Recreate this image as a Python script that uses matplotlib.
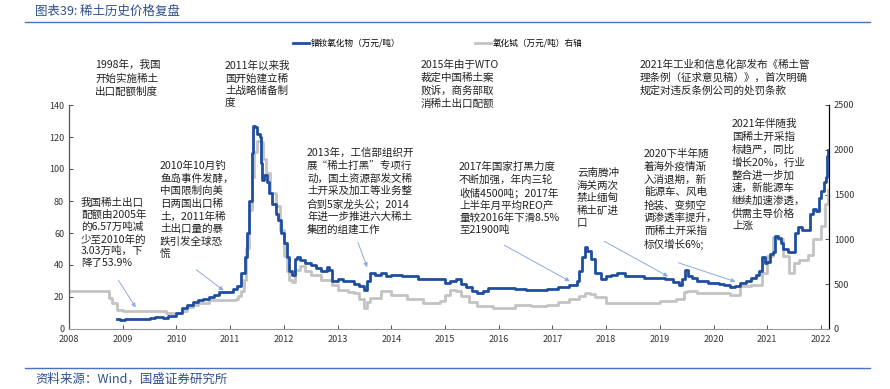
import matplotlib.pyplot as plt
import numpy as np

plt.rcParams['font.family'] = ['Noto Sans CJK SC', 'DejaVu Sans']

# 镨钕氧化物 (万元/吨), left axis
pn_t = [2008.90, 2008.95, 2009.05, 2009.2, 2009.35, 2009.5, 2009.6, 2009.75, 2009.85,
        2010.0, 2010.1, 2010.2, 2010.3, 2010.4, 2010.5, 2010.6, 2010.7, 2010.8, 2010.95,
        2011.05, 2011.12, 2011.2, 2011.27, 2011.32, 2011.36, 2011.40, 2011.43, 2011.47,
        2011.50, 2011.55, 2011.57, 2011.60, 2011.63, 2011.68, 2011.72, 2011.78, 2011.85,
        2011.9, 2011.95, 2012.0, 2012.05, 2012.1, 2012.15, 2012.2, 2012.25, 2012.3,
        2012.4, 2012.5, 2012.6, 2012.7, 2012.8, 2012.85, 2012.9, 2013.0, 2013.1, 2013.2,
        2013.3, 2013.4, 2013.5, 2013.55, 2013.6, 2013.7, 2013.8, 2013.9, 2014.0, 2014.2,
        2014.3, 2014.5, 2014.7, 2014.9, 2015.0, 2015.1, 2015.2, 2015.3, 2015.4, 2015.5,
        2015.6, 2015.7, 2015.8, 2016.0, 2016.3, 2016.5, 2016.7, 2016.9, 2017.1, 2017.3,
        2017.45, 2017.5, 2017.55, 2017.6, 2017.65, 2017.72, 2017.8, 2017.9, 2018.0,
        2018.1, 2018.2, 2018.35, 2018.5, 2018.7, 2018.9, 2019.1, 2019.25, 2019.35,
        2019.42, 2019.47, 2019.52, 2019.6, 2019.7, 2019.8, 2019.9, 2020.0, 2020.1,
        2020.2, 2020.3, 2020.4, 2020.5, 2020.6, 2020.7, 2020.8, 2020.85, 2020.9, 2020.95,
        2021.0, 2021.05, 2021.1, 2021.15, 2021.2, 2021.25, 2021.3, 2021.38, 2021.45,
        2021.52, 2021.58, 2021.65, 2021.72, 2021.8, 2021.85, 2021.9, 2021.96, 2022.0,
        2022.05, 2022.09, 2022.12, 2022.14]
pn_v = [6, 5.5, 6, 6.5, 6.5, 7, 7.5, 7, 8,
        10, 13, 15, 17, 18, 19, 20, 21.5, 23, 23,
        25, 27, 35, 45, 60, 80, 110, 127, 126,
        122, 120, 104, 93, 96, 92, 85, 78, 72,
        68, 60, 54, 45, 36, 34, 44, 45, 43,
        41, 40, 38, 36, 39, 37, 30, 31, 30, 30,
        28, 27, 24.5, 30, 35, 34, 35, 33, 34, 33,
        33, 31, 31, 31, 29, 30, 31, 28, 26.5, 24,
        22.5, 24, 25.5, 25.5, 25, 24.5, 24.5, 25, 26, 27.5,
        30, 36, 45, 51, 49, 44, 35, 31, 33,
        34, 35, 33, 33, 32, 32, 31, 29.5, 27.5,
        31, 37, 33, 32, 30, 30, 29, 28.5, 28,
        27.5, 26, 27, 28.5, 30, 32, 34, 36, 45, 41,
        42, 47, 48, 58, 57, 54, 50, 48, 48,
        60, 64, 62, 62, 72, 75, 74, 82, 86,
        92, 95, 108, 112]

# 氧化铽 (万元/吨), right axis
tb_t = [2008.0, 2008.7, 2008.75, 2008.8, 2008.9, 2009.0, 2009.7, 2009.8, 2010.0, 2010.1,
        2010.2, 2010.3, 2010.4, 2010.6, 2010.8, 2011.0, 2011.1, 2011.15, 2011.2, 2011.25,
        2011.3, 2011.35, 2011.4, 2011.45, 2011.5, 2011.58, 2011.62, 2011.66, 2011.75,
        2011.85, 2011.92, 2012.0, 2012.05, 2012.1, 2012.15, 2012.2, 2012.3, 2012.4,
        2012.5, 2012.7, 2012.9, 2013.0, 2013.2, 2013.3, 2013.4, 2013.5, 2013.55, 2013.6,
        2013.8, 2014.0, 2014.3, 2014.6, 2014.9, 2015.0, 2015.1, 2015.2, 2015.3, 2015.45,
        2015.6, 2015.9, 2016.0, 2016.3, 2016.6, 2016.9, 2017.1, 2017.3, 2017.5, 2017.6,
        2017.7, 2017.8, 2018.0, 2018.5, 2019.0, 2019.3, 2019.45, 2019.5, 2019.7, 2020.0,
        2020.3, 2020.5, 2020.7, 2020.9, 2021.0, 2021.1, 2021.2, 2021.3, 2021.4, 2021.5,
        2021.6, 2021.75, 2021.85, 2022.0, 2022.08, 2022.14]
tb_v = [420, 420, 350, 290, 216, 200, 200, 180, 180, 200,
        250, 270, 290, 320, 327, 327, 340, 364, 420, 550,
        900, 1330, 1700, 1980, 2100, 2090, 1900, 1740, 1520,
        1370, 1110, 810, 650, 550, 530, 660, 700, 650,
        600, 550, 490, 440, 410, 400, 330, 235, 300, 350,
        420, 385, 330, 290, 310, 380, 440, 420, 365, 300,
        255, 235, 235, 270, 255, 270, 300, 330, 370, 400,
        390, 360, 290, 290, 310, 330, 410, 420, 400, 400,
        385, 475, 495, 620, 810, 1030, 1000, 810, 620, 740,
        770, 830, 1000, 1145, 1400, 1550]

years = list(range(2008, 2023))
left_ticks = [0, 20, 40, 60, 80, 100, 120, 140]
right_ticks = [0, 500, 1000, 1500, 2000, 2500]

W, H = 890, 389
fig = plt.figure(figsize=(W / 100, H / 100), dpi=100)
ax = fig.add_axes([69 / W, 1 - 329 / H, 760 / W, 224 / H])
ax2 = ax.twinx()

blue = '#1F4E9E'
gray = '#C3C3C3'
l2, = ax2.plot(tb_t, tb_v, color=gray, lw=2, drawstyle='steps-post', label='氧化铽（万元/吨）右轴')
l1, = ax.plot(pn_t, pn_v, color=blue, lw=2, drawstyle='steps-post', label='镨钕氧化物（万元/吨）')
ax.set_zorder(ax2.get_zorder() + 1)
ax.patch.set_visible(False)

ax.set_xlim(2008, 2022.15)
ax.set_ylim(0, 140)
ax2.set_ylim(0, 2500)
ax.set_xticks(years)
ax.set_xticklabels([str(y) for y in years])
ax.set_yticks(left_ticks)
ax2.set_yticks(right_ticks)
for a in (ax, ax2):
    a.spines['top'].set_visible(False)
    a.tick_params(labelsize=6.5, colors='#333333', length=3, direction='in', width=0.6)
ax.spines['left'].set_color('#555555')
ax2.spines['right'].set_color('#222222')
ax.spines['bottom'].set_color('#999999')
ax2.spines['bottom'].set_visible(False)
ax.tick_params(axis='x', pad=4)

fig.legend(handles=[l1, l2], loc='center left', bbox_to_anchor=(293 / W, 1 - 44 / H),
           ncol=2, frameon=False, fontsize=6.2, handlelength=1.9, handletextpad=0.2,
           columnspacing=8.6, borderpad=0, borderaxespad=0)

def px(x, y):
    return x / W, 1 - y / H

fs = 7.6
tc = '#222222'
notes = [
    (95, 60, '1998年，我国\n开始实施稀土\n出口配额制度', 1.38),
    (225, 60, '2011年以来我\n国开始建立稀\n土战略储备制\n度', 1.3),
    (421, 60, '2015年由于WTO\n裁定中国稀土案\n败诉，商务部取\n消稀土出口配额', 1.3),
    (640, 60, '2021年工业和信息化部发布《稀土管\n理条例（征求意见稿）》，首次明确\n规定对违反条例公司的处罚条款', 1.3),
    (81, 198, '我国稀土出口\n配额由2005年\n的6.57万吨减\n少至2010年的\n3.03万吨，下\n降了53.9%', 1.23),
    (160, 161, '2010年10月钓\n鱼岛事件发酵，\n中国限制向美\n日两国出口稀\n土，2011年稀\n土出口量的暴\n跌引发全球恐\n慌', 1.29),
    (307, 148, '2013年，工信部组织开\n展“稀土打黑”专项行\n动，国土资源部发文稀\n土开采及加工等业务整\n合到5家龙头公；2014\n年进一步推进六大稀土\n集团的组建工作', 1.29),
    (459, 162, '2017年国家打黑力度\n不断加强，年内三轮\n收储4500吨；2017年\n上半年月平均REO产\n量较2016年下滑8.5%\n至21900吨', 1.27),
    (577, 168, '云南腾冲\n海关两次\n禁止缅甸\n稀土矿进\n口', 1.3),
    (644, 149, '2020下半年随\n着海外疫情渐\n入消退期，新\n能源车、风电\n抢装、变频空\n调渗透率提升，\n而稀土开采指\n标仅增长6%;', 1.32),
    (732, 119, '2021年伴随我\n国稀土开采指\n标趋严，同比\n增长20%，行业\n整合进一步加\n速，新能源车\n继续加速渗透，\n供需主导价格\n上涨', 1.3),
]
for x, y, s, ls in notes:
    fig.text(*px(x, y), s, fontsize=fs, color=tc, va='top', ha='left', linespacing=ls)

# arrows: (text end in pixels) -> (year, value on left axis)
arrows = [
    ((117, 278), (2009.27, 12)),
    ((194, 268), (2010.92, 23)),
    ((357, 240), (2013.57, 37)),
    ((502, 244), (2017.37, 29)),
    ((602, 240), (2019.2, 32)),
    ((676, 262), (2020.46, 29)),
]
for (x0, y0), (xt, yt) in arrows:
    ax.annotate('', xy=(xt, yt), xycoords='data', xytext=px(x0, y0), textcoords='figure fraction',
                arrowprops=dict(arrowstyle='-|>', color='#8EA9DB', lw=0.7, mutation_scale=6))

title_c = '#2F4F8F'
fig.text(*px(35, 11), '图表39: 稀土历史价格复盘', fontsize=9, color=title_c, va='center', ha='left', style='italic')
fig.add_artist(plt.Line2D([25 / W, 870 / W], [1 - 22 / H] * 2, color='#4472C4', lw=1))
fig.add_artist(plt.Line2D([25 / W, 870 / W], [1 - 368 / H] * 2, color='#4472C4', lw=1))
fig.text(*px(35, 379), '资料来源：Wind，国盛证券研究所', fontsize=9, color=title_c, va='center', ha='left', style='italic')

fig.savefig('out.png', dpi=100)
